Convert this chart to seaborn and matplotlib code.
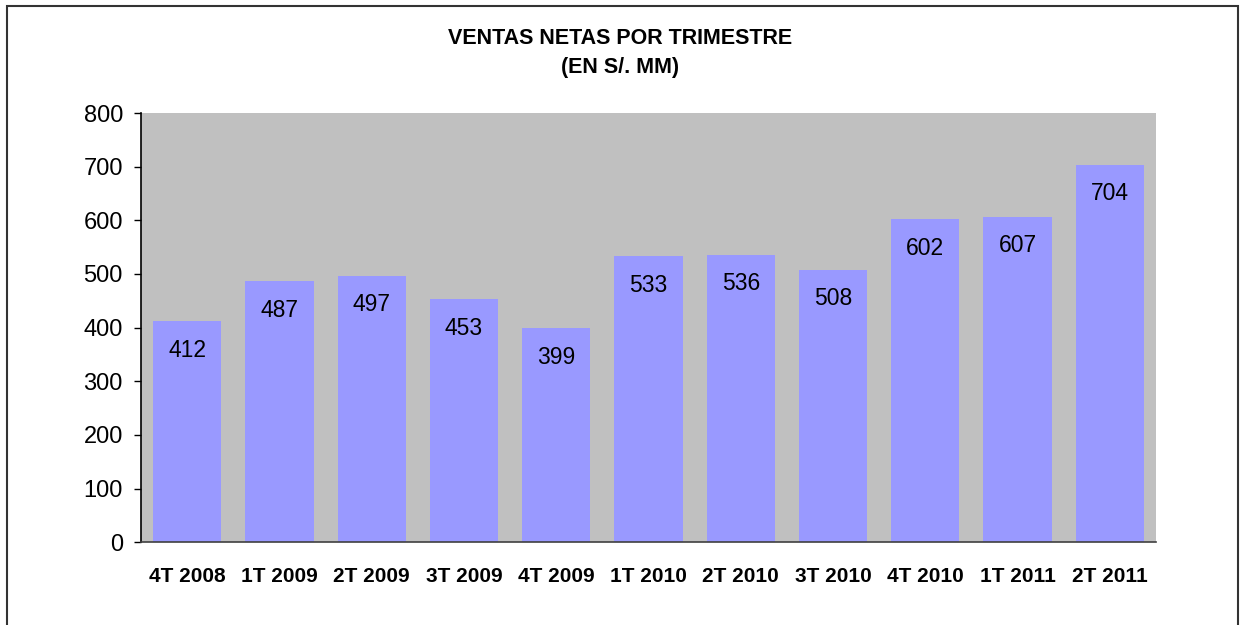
import matplotlib
matplotlib.use("Agg")
import matplotlib.pyplot as plt
import seaborn as sns
import pandas as pd
from matplotlib.patches import Rectangle

# Datos
trimestres = ["4T 2008", "1T 2009", "2T 2009", "3T 2009", "4T 2009", "1T 2010",
              "2T 2010", "3T 2010", "4T 2010", "1T 2011", "2T 2011"]
ventas = [412, 487, 497, 453, 399, 533, 536, 508, 602, 607, 704]
y_ticks = [0, 100, 200, 300, 400, 500, 600, 700, 800]

df = pd.DataFrame({"trimestre": trimestres, "ventas": ventas})

sns.set_theme(style="white")
plt.rcParams["font.family"] = ["Liberation Sans", "DejaVu Sans"]
plt.rcParams["text.color"] = "black"
plt.rcParams["xtick.color"] = "black"
plt.rcParams["ytick.color"] = "black"

fig = plt.figure(figsize=(12.41, 6.25), dpi=100)
ax = fig.add_axes([0.1136, 0.1323, 0.8179, 0.6869])
ax.set_facecolor("#C0C0C0")

sns.barplot(data=df, x="trimestre", y="ventas", color="#9999FF",
            saturation=1, width=0.74, edgecolor="none", linewidth=0, ax=ax)

for i, v in enumerate(ventas):
    ax.annotate(str(v), (i, v), xytext=(0, -21), textcoords="offset points",
                ha="center", va="center", fontsize=16.5, color="black")

ax.set_ylim(0, 800)
ax.set_xlim(-0.5, len(trimestres) - 0.5)
ax.set_yticks(y_ticks)
ax.set_xlabel("")
ax.set_ylabel("")
ax.tick_params(axis="y", labelsize=17, length=5, width=1, color="black",
               labelcolor="black", pad=8, left=True, direction="out")
ax.tick_params(axis="x", labelsize=15, length=0, pad=18, labelcolor="black")
for lbl in ax.get_xticklabels():
    lbl.set_fontweight("bold")

for side in ["top", "right"]:
    ax.spines[side].set_visible(False)
ax.spines["left"].set_color("black")
ax.spines["left"].set_linewidth(1.2)
ax.spines["bottom"].set_color("#404040")
ax.spines["bottom"].set_linewidth(1.2)

fig.text(0.5, 1 - 38 / 625, "VENTAS NETAS POR TRIMESTRE", ha="center",
         va="center", fontsize=15.5, fontweight="bold", color="black")
fig.text(0.5, 1 - 68 / 625, "(EN S/. MM)", ha="center", va="center",
         fontsize=15.5, fontweight="bold", color="black")

# marco exterior
fig.patches.append(Rectangle((7 / 1241, -0.01), 1231 / 1241, 1 - 6 / 625 + 0.01,
                             transform=fig.transFigure, fill=False,
                             edgecolor="#333333", linewidth=1.5))

fig.savefig("out.png", dpi=100)
